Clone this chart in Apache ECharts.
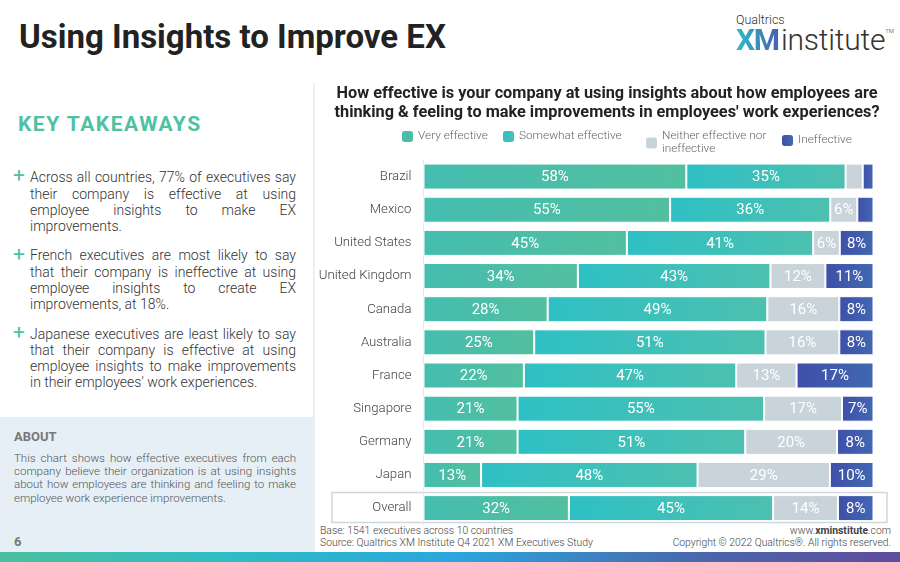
<!DOCTYPE html>
<html>
<head>
<meta charset="utf-8">
<title>Using Insights to Improve EX</title>
<script src="https://cdn.jsdelivr.net/npm/echarts@6/dist/echarts.min.js"></script>
<style>
html, body { margin: 0; width: 900px; height: 562px; overflow: hidden; background: #fff; font-family: Roboto, sans-serif; }
#main { position: absolute; left: 0; top: 0; width: 900px; height: 562px; }
.t { position: absolute; white-space: nowrap; }
.j { position: absolute; left: 30px; width: 266px; font-size: 14px; font-weight: 300; color: #333; text-align: justify; text-align-last: justify; line-height: 16px; }
.j.l { text-align-last: left; }
.a { position: absolute; left: 14px; width: 282px; font-size: 11.5px; font-weight: 300; color: #555; text-align: justify; text-align-last: justify; line-height: 13px; }
.a.l { text-align-last: left; }
.plus { position: absolute; left: 13px; font-size: 21px; color: #4fc1a3; line-height: 20px; font-weight: 400; }
#about { position: absolute; left: 0; top: 417px; width: 314px; height: 135px; background: #e6eff6; }
#vline { position: absolute; left: 313px; top: 83px; width: 2px; height: 469px; background: #e8f0f4; }
#foot { position: absolute; left: 0; top: 552px; width: 900px; height: 10px; background: linear-gradient(90deg, #4cbf9f 0%, #2fbcc4 25%, #2aa7dd 50%, #4a66ae 78%, #5f4d9c 100%); }
#xm { left: 736px; top: 22px; font-size: 30px; font-weight: 700; letter-spacing: -1.2px; background: linear-gradient(90deg, #2fbcc4, #4a5fb0); -webkit-background-clip: text; background-clip: text; color: transparent; }
</style>
</head>
<body>
<div id="about"></div>
<div id="vline"></div>
<div id="foot"></div>
<div class="t" style="left:19px;top:17px;font-size:33px;font-weight:700;color:#222">Using Insights to Improve EX</div>
<div class="t" style="left:736px;top:12px;font-size:12.5px;font-weight:300;color:#333">Qualtrics</div>
<div class="t" id="xm">XM</div>
<div class="t" style="left:781px;top:22px;font-size:30px;font-weight:300;letter-spacing:-0.2px;color:#333">institute<span style="font-size:6px;vertical-align:17px">TM</span></div>
<div class="t" style="left:18px;top:112px;font-size:21px;font-weight:700;letter-spacing:1.5px;color:#4fc1a3">KEY TAKEAWAYS</div>

<div class="plus" style="top:165px">+</div>
<div class="j" style="top:169px">Across all countries, 77% of executives say</div>
<div class="j" style="top:186px">their company is effective at using</div>
<div class="j" style="top:202px">employee insights to make EX</div>
<div class="j l" style="top:218px">improvements.</div>
<div class="plus" style="top:244px">+</div>
<div class="j" style="top:247px">French executives are most likely to say</div>
<div class="j" style="top:264px">that their company is ineffective at using</div>
<div class="j" style="top:280px">employee insights to create EX</div>
<div class="j l" style="top:296px">improvements, at 18%.</div>
<div class="plus" style="top:322px">+</div>
<div class="j" style="top:326px">Japanese executives are least likely to say</div>
<div class="j" style="top:342px">that their company is effective at using</div>
<div class="j" style="top:358px">employee insights to make improvements</div>
<div class="j l" style="top:374px">in their employees' work experiences.</div>

<div class="t" style="left:14px;top:429px;font-size:13px;font-weight:700;color:#777">ABOUT</div>
<div class="a" style="top:452px">This chart shows how effective executives from each</div>
<div class="a" style="top:465px">company believe their organization is at using insights</div>
<div class="a" style="top:478px">about how employees are thinking and feeling to make</div>
<div class="a l" style="top:492px">employee work experience improvements.</div>
<div class="t" style="left:14px;top:534px;font-size:13px;font-weight:700;color:#777">6</div>

<div class="t" style="left:320px;top:524px;font-size:10.4px;font-weight:300;color:#444">Base: 1541 executives across 10 countries</div>
<div class="t" style="left:320px;top:536px;font-size:10.4px;font-weight:300;color:#444">Source: Qualtrics XM Institute Q4 2021 XM Executives Study</div>
<div class="t" style="right:9px;top:524px;font-size:10.4px;font-weight:300;color:#444">www.<b style="font-weight:700">xminstitute</b>.com</div>
<div class="t" style="right:9px;top:536px;font-size:10.3px;font-weight:300;color:#444">Copyright © 2022 Qualtrics®. All rights reserved.</div>

<div id="main"></div>
<script type="text/javascript">
var countries = ['Brazil', 'Mexico', 'United States', 'United Kingdom', 'Canada', 'Australia', 'France', 'Singapore', 'Germany', 'Japan', 'Overall'];
// the labels are these rounded
var veryEffective = [58.4, 54.8, 45.2, 34.3, 27.6, 24.6, 22.3, 20.9, 20.9, 12.8, 32.3];
var somewhatEffective = [35.4, 35.6, 41.4, 42.8, 48.8, 51.4, 47.2, 54.8, 50.6, 48.1, 45.4];
var neitherEffective = [3.8, 6.0, 5.9, 12.2, 16.0, 16.4, 13.4, 17.3, 20.4, 29.4, 14.4];
var ineffective = [2.4, 3.6, 7.5, 10.7, 7.6, 7.6, 17.1, 7.0, 8.1, 9.7, 7.9];
var questionTitle = 'How effective is your company at using insights about how employees are\nthinking & feeling to make improvements in employees\' work experiences?';

var myChart = echarts.init(document.getElementById('main'), null, { renderer: 'canvas' });

function grad(a, b) {
    return new echarts.graphic.LinearGradient(0, 0, 1, 0, [{ offset: 0, color: a }, { offset: 1, color: b }]);
}
function makeSeries(name, data, a, b) {
    return {
        name: name,
        type: 'bar',
        stack: 'total',
        barWidth: 26,
        data: data,
        itemStyle: { color: grad(a, b), borderColor: '#fff', borderWidth: 1 },
        label: {
            show: true,
            position: 'inside',
            color: '#fff',
            fontFamily: 'Roboto',
            fontSize: 15,
            offset: [0, 1],
            formatter: function (p) {
                return p.value < 5 ? '' : Math.round(p.value) + '%';
            }
        }
    };
}
function makeLegend(name, left, top) {
    return {
        data: [name],
        left: left,
        top: top,
        padding: 0,
        itemWidth: 11,
        itemHeight: 11,
        itemGap: 0,
        align: 'left',
        selectedMode: false,
        itemStyle: { borderWidth: 0 },
        textStyle: { color: '#666', fontFamily: 'Roboto', fontWeight: 300, fontSize: 11.8, lineHeight: 13 }
    };
}

var option = {
    animation: false,
    title: {
        text: questionTitle,
        left: 602,
        top: 79,
        textAlign: 'center',
        textStyle: { fontFamily: 'Roboto', fontSize: 16.3, fontWeight: 700, color: '#222', lineHeight: 19 }
    },
    legend: [
        makeLegend('Very effective', 402, 130),
        makeLegend('Somewhat effective', 503, 130),
        makeLegend('Neither effective nor\nineffective', 646, 130),
        makeLegend('Ineffective', 782, 134)
    ],
    grid: { left: 423.5, right: 26.5, top: 160, height: 364.7 },
    xAxis: { type: 'value', min: 0, max: 100, show: false },
    yAxis: {
        type: 'category',
        inverse: true,
        data: countries,
        axisTick: { show: false },
        axisLine: { lineStyle: { color: '#e3e8ec', width: 1 } },
        axisLabel: { color: '#444', fontFamily: 'Roboto', fontWeight: 300, fontSize: 13.2, margin: 12 }
    },
    series: [
        makeSeries('Very effective', veryEffective, '#45bdb0', '#52bf9f'),
        makeSeries('Somewhat effective', somewhatEffective, '#2fc0c4', '#4dc0b0'),
        makeSeries('Neither effective nor\nineffective', neitherEffective, '#c8d3da', '#c8d3da'),
        makeSeries('Ineffective', ineffective, '#3f4fa8', '#4168b2')
    ],
    graphic: [{
        type: 'rect',
        z: -1,
        shape: { x: 332, y: 492.5, width: 555, height: 30 },
        style: { fill: 'none', stroke: '#cdd8de', lineWidth: 1.5 }
    }]
};
myChart.setOption(option);
</script>
</body>
</html>
